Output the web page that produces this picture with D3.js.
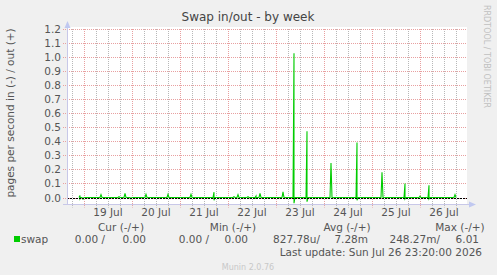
<!DOCTYPE html>
<html lang="en">
<head>
<meta charset="UTF-8">
<title>Swap in/out - by week</title>
<script src="https://d3js.org/d3.v7.min.js"></script>
<style>
    body { margin: 0; background: #f0f0f0; }
    text { font-family: 'DejaVu Sans', sans-serif; }
</style>
</head>
<body>
<script>
    const width  = 497;
    const height = 275;

    // spikes: time, swap out (+), swap in (shown as -)
    const spikeTimes = [
        "2026-07-18T22:00", "2026-07-18T23:30", "2026-07-19T08:30", "2026-07-19T17:30",
        "2026-07-19T20:30", "2026-07-19T23:30", "2026-07-20T07:00", "2026-07-20T18:00",
        "2026-07-21T05:30", "2026-07-21T17:00", "2026-07-22T03:00", "2026-07-22T05:00",
        "2026-07-22T10:00", "2026-07-22T14:00", "2026-07-22T16:00", "2026-07-23T03:30",
        "2026-07-23T09:00", "2026-07-23T15:30", "2026-07-24T03:30", "2026-07-24T16:30",
        "2026-07-25T05:00", "2026-07-25T16:30", "2026-07-26T00:00", "2026-07-26T04:30",
        "2026-07-26T17:30"
    ];
    const swapOut = [0.015, 0, 0.02, 0.005, 0.03, 0, 0.022, 0.022, 0.022, 0.038, 0.005, 0.02,
                     0.005, 0.01, 0.03, 0.04, 1.025, 0.47, 0.245, 0.39, 0.18, 0.10, 0.01, 0.087, 0.02];
    const swapIn  = [0.01, 0.012, 0, 0, 0, 0.01, 0, 0, 0, 0.02, 0, 0,
                     0, 0.005, 0, 0, 0.04, 0.03, 0, 0.02, 0, 0.01, 0, 0.01, 0];

    const yTicks = d3.range(0, 13).map(i => i / 10);
    const dayLabels = ["19 Jul", "20 Jul", "21 Jul", "22 Jul", "23 Jul", "24 Jul", "25 Jul", "26 Jul"];

    const legendHeads = ["Cur (-/+)", "Min (-/+)", "Avg (-/+)", "Max (-/+)"];
    const legendVals = [["0.00 /", "0.00"], ["0.00 /", "0.00"], ["827.78u/", "7.28m"], ["248.27m/", "6.01"]];
    const lastUpdate = "Last update: Sun Jul 26 23:20:00 2026";

    const parse = d3.timeParse("%Y-%m-%dT%H:%M");
    const start = parse("2026-07-18T15:30");
    const end   = parse("2026-07-26T23:30");
    const halfHour = 30 * 60 * 1000;

    const x = d3.scaleTime().domain([start, end]).range([67, 467]);
    const y = d3.scaleLinear().domain([0, 1.2]).range([197.5, 28.5]);

    const svg = d3.select("body").append("svg")
        .attr("width", width).attr("height", height);

    const gridTop = Math.round(y(1.2));
    const axisY = Math.round(y(-0.045)) + 0.5;

    // plot area
    svg.append("rect")
        .attr("x", 67).attr("y", gridTop - 2)
        .attr("width", 400).attr("height", axisY - gridTop + 2)
        .attr("fill", "#fff");

    // grid: 6h minor (grey), midnight major (red)
    const major = d3.timeDay.range(start, end);
    const minor = [];
    d3.timeDay.range(d3.timeDay.offset(start, -1), end).forEach(d => {
        [6, 12, 18].forEach(h => {
            const t = d3.timeHour.offset(d, h);
            if (t > start && t < end) minor.push(t);
        });
    });

    const vgrid = (data, color, cls) => {
        const g = svg.append("g").attr("class", cls);
        data.forEach(d => {
            const px = Math.round(x(d)) + 0.5;
            g.append("path")
                .attr("d", `M${px},${gridTop} V${axisY + 3}`)
                .attr("stroke", color).attr("stroke-width", 1)
                .attr("stroke-dasharray", "1,1").attr("fill", "none");
        });
    };
    vgrid(minor, "#b8b8b8", "minor");
    vgrid(major, "#e8a0a0", "major");

    // horizontal grid
    svg.append("g").selectAll("path").data(yTicks).enter().append("path")
        .attr("d", d => `M63,${Math.round(y(d)) + 0.5} H467`)
        .attr("stroke", "#e8a0a0").attr("stroke-dasharray", "1,1").attr("fill", "none");

    // y tick labels
    svg.append("g").selectAll("text").data(yTicks).enter().append("text")
        .attr("x", 61).attr("y", d => Math.round(y(d)) + 4)
        .attr("text-anchor", "end").attr("font-size", 10.5).attr("fill", "#555")
        .text(d => d3.format(".1f")(d));

    // x labels at noon
    svg.append("g").selectAll("text").data(major).enter().append("text")
        .attr("x", d => x(d3.timeHour.offset(d, 12)))
        .attr("y", 216).attr("text-anchor", "middle")
        .attr("font-size", 10.5).attr("fill", "#555")
        .text((d, i) => dayLabels[i]);

    // series: spikes up for out, down for in
    const pts = [];
    spikeTimes.forEach((s, i) => {
        const t = parse(s);
        if (swapOut[i] > 0) pts.push([+t - halfHour, 0], [+t, swapOut[i]], [+t + halfHour, 0]);
        if (swapIn[i] > 0) pts.push([+t - halfHour, 0], [+t, -swapIn[i]], [+t + halfHour, 0]);
    });
    pts.sort((a, b) => a[0] - b[0]);
    const line = d3.line().x(d => x(d[0])).y(d => y(d[1]));
    svg.append("path")
        .datum(pts)
        .attr("d", line)
        .attr("fill", "none")
        .attr("stroke", "#00cc00")
        .attr("stroke-width", 1.1);

    // zero line
    svg.append("path")
        .attr("d", `M67,${Math.round(y(0)) + 0.5} H467`)
        .attr("stroke", "#000").attr("stroke-width", 1.2)
        .attr("stroke-dasharray", "2,1").attr("fill", "none");

    // axes
    svg.append("path").attr("d", `M67.5,${axisY} V24`).attr("stroke", "#c8c8e8").attr("fill", "none");
    svg.append("path").attr("d", `M63,${axisY} H470`).attr("stroke", "#c8c8e8").attr("fill", "none");
    svg.append("path").attr("d", `M64.5,28 L67.5,21 L70.5,28 Z`).attr("fill", "#c0c8f0");
    svg.append("path").attr("d", `M469,${axisY - 3} L476,${axisY} L469,${axisY + 3} Z`).attr("fill", "#c0c8f0");

    // title
    svg.append("text").attr("x", 248).attr("y", 21)
        .attr("text-anchor", "middle").attr("font-size", 12).attr("fill", "#444")
        .text("Swap in/out - by week");

    // y axis label
    svg.append("text")
        .attr("transform", "translate(14,113) rotate(-90)")
        .attr("text-anchor", "middle").attr("font-size", 10.5).attr("fill", "#555")
        .text("pages per second in (-) / out (+)");

    // watermark
    svg.append("text")
        .attr("transform", "translate(484,5) rotate(90)")
        .attr("font-size", 8).attr("fill", "#c0c0c0")
        .text("RRDTOOL / TOBI OETIKER");

    // legend
    const headX = [121, 233, 347, 460];
    svg.append("g").selectAll("text").data(legendHeads).enter().append("text")
        .attr("x", (d, i) => headX[i]).attr("y", 231)
        .attr("text-anchor", "middle").attr("font-size", 10.5).attr("fill", "#555")
        .text(d => d);

    svg.append("rect").attr("x", 14).attr("y", 236).attr("width", 6).attr("height", 6)
        .attr("fill", "#00cc00");
    svg.append("text").attr("x", 21).attr("y", 243)
        .attr("font-size", 10.5).attr("fill", "#555").text("swap");

    const valX = [[105, 146], [209, 248], [320, 368], [440, 479]];
    legendVals.forEach((pair, i) => {
        pair.forEach((v, j) => {
            svg.append("text").attr("x", valX[i][j]).attr("y", 243)
                .attr("text-anchor", "end").attr("font-size", 10.5).attr("fill", "#555")
                .text(v);
        });
    });

    svg.append("text").attr("x", 482).attr("y", 256)
        .attr("text-anchor", "end").attr("font-size", 10.5).attr("fill", "#555")
        .text(lastUpdate);

    svg.append("text").attr("x", 248).attr("y", 270)
        .attr("text-anchor", "middle").attr("font-size", 8).attr("fill", "#c8c8c8")
        .text("Munin 2.0.76");
</script>
</body>
</html>
